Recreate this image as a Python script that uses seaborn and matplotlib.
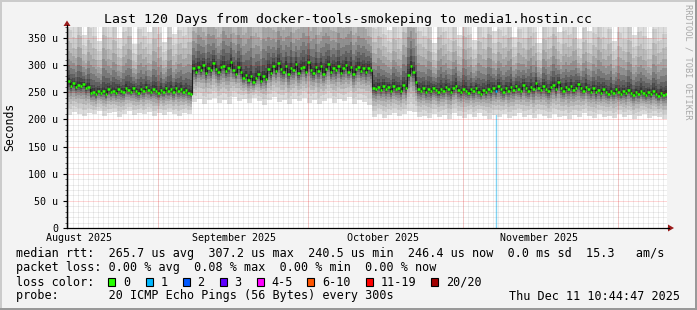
import numpy as np
import pandas as pd
import matplotlib
matplotlib.use("Agg")
import matplotlib.pyplot as plt
import matplotlib.dates as mdates
import seaborn as sns
from matplotlib.patches import Polygon, Rectangle
from matplotlib.lines import Line2D

# ---------------- data ----------------
title = "Last 120 Days from docker-tools-smokeping to media1.hostin.cc"
start_time = "2025-08-13 10:44:47"
end_time = "2025-12-11 10:44:47"

# median RTT (microseconds), one value per half day (240 values)
median_rtt = [
    270, 262, 266, 259, 264, 261, 265, 258, 260, 248,
    251, 246, 253, 249, 252, 247, 255, 250, 253, 249,
    256, 252, 250, 258, 254, 251, 257, 253, 249, 255,
    252, 259, 254, 250, 256, 253, 248, 254, 251, 257,
    252, 255, 250, 258, 253, 256, 251, 254, 249, 247,
    294, 288, 297, 291, 300, 286, 295, 290, 303, 292,
    287, 296, 299, 289, 294, 305, 291, 284, 297, 288,
    276, 281, 272, 279, 268, 277, 283, 271, 280, 275,
    293, 285, 298, 289, 304, 292, 287, 299, 283, 295,
    290, 301, 286, 294, 297, 288, 305, 291, 285, 296,
    289, 299, 284, 293, 302, 287, 295, 290, 298, 286,
    294, 300, 288, 296, 283, 292, 297, 289, 294, 287,
    295, 290, 258, 255, 260, 254, 262, 256, 259, 253,
    261, 256, 258, 252, 263, 257, 282, 299, 288, 268,
    256, 253, 258, 251, 255, 252, 257, 254, 250, 256,
    253, 259, 255, 251, 257, 262, 254, 250, 256, 253,
    249, 255, 252, 258, 251, 247, 254, 250, 256, 252,
    258, 253, 262, 255, 250, 257, 253, 259, 254, 261,
    256, 252, 264, 257, 253, 260, 255, 266, 258, 254,
    261, 256, 252, 259, 263, 255, 268, 257, 253, 260,
    256, 262, 254, 258, 265, 257, 253, 260, 255, 251,
    257, 250, 254, 248, 256, 251, 247, 253, 249, 255,
    250, 246, 252, 248, 254, 249, 245, 251, 247, 253,
    248, 244, 250, 246, 252, 247, 243, 249, 245, 247,
]

# smoke extents (microseconds), one value per day (120 values)
smoke_hi = [
    390, 372, 410, 355, 398, 380, 345, 420, 376, 402,
    350, 388, 415, 338, 395, 378, 360, 405, 385, 342,
    412, 358, 392, 380, 400,
    440, 465, 430, 470, 450,
    425, 480, 455, 435, 465, 445, 490, 450, 430, 475,
    460, 440, 470, 450, 485, 435, 455, 475, 445, 465,
    430, 480, 450, 440, 470, 450, 485, 435, 460, 455,
    420,
    395, 410, 380, 365, 400, 372, 420, 480, 460, 390,
    378, 405, 340, 415, 388, 370, 398, 355, 412,
    382, 346, 400, 375, 420, 362, 392, 380, 408, 352,
    395, 372, 410, 385, 340, 402, 377, 415, 360, 390,
    380, 405, 348, 398, 362, 385, 410, 375, 395, 345,
    388, 372, 402, 356, 390, 380, 350, 395, 370, 385,
]
smoke_lo = [
    208, 214, 210, 206, 212, 209, 215, 207, 211, 213,
    205, 210, 216, 208, 212, 209, 214, 206, 211, 208,
    213, 210, 207, 212, 209,
    232, 238, 229, 235, 240,
    231, 236, 228, 242, 233, 237, 230, 239, 234, 227,
    236, 241, 232, 235, 229, 238, 233, 240, 231, 236,
    228, 234, 239, 230, 237, 233, 241, 229, 235, 232,
    226,
    205, 210, 203, 208, 212, 206, 209, 215, 213, 204,
    207, 202, 210, 205, 208, 200, 211, 206, 203,
    209, 204, 212, 207, 201, 208, 205, 210, 203, 207,
    211, 204, 208, 202, 209, 206, 203, 210, 205, 207,
    201, 208, 204, 211, 206, 202, 209, 205, 207, 203,
    210, 204, 208, 201, 206, 209, 203, 207, 205, 200,
]

loss_time = ["2025-11-07 06:00"]
loss_count = [1]

y_ticks = [0, 50, 100, 150, 200, 250, 300, 350]
y_ticklabels = ["0", "50 u", "100 u", "150 u", "200 u", "250 u", "300 u", "350 u"]
month_labels = ["August 2025", "September 2025", "October 2025", "November 2025"]
month_label_times = ["2025-08-15 18:00", "2025-09-15 20:00", "2025-10-15 15:30", "2025-11-15 20:00"]
major_grid_times = ["2025-08-31 15:30", "2025-09-30 15:30", "2025-10-31 15:30", "2025-12-01 15:30"]

loss_labels = ["0", "1", "2", "3", "4-5", "6-10", "11-19", "20/20"]
loss_colors = ["#26ff00", "#00b8ff", "#0059ff", "#5e00ff", "#ff00ff", "#ff5500", "#ff0000", "#a10000"]

legend_rtt = "median rtt:  265.7 us avg  307.2 us max  240.5 us min  246.4 us now  0.0 ms sd  15.3   am/s"
legend_loss = "packet loss: 0.00 % avg  0.08 % max  0.00 % min  0.00 % now"
legend_probe = "probe:       20 ICMP Echo Pings (56 Bytes) every 300s"
stamp = "Thu Dec 11 10:44:47 2025"

# ---------------- figure ----------------
sns.set_theme(style="white")
plt.rcParams["font.family"] = ["DejaVu Sans Mono", "DejaVu Sans"]

W, H = 697, 310
fig = plt.figure(figsize=(W / 100, H / 100), dpi=100, facecolor="#f3f3f3")


def fx(px):
    return px / W


def fy(py):
    return 1 - py / H


ax = fig.add_axes([fx(67), fy(228), 600 / W, 201 / H])
ax.set_facecolor("white")

t0 = pd.Timestamp(start_time)
t1 = pd.Timestamp(end_time)
n = len(median_rtt)
edges = mdates.date2num(pd.date_range(t0, t1, periods=n + 1).to_pydatetime())
med = np.asarray(median_rtt, dtype=float)
lo = np.repeat(np.asarray(smoke_lo, dtype=float), n // len(smoke_lo))
hi = np.repeat(np.asarray(smoke_hi, dtype=float), n // len(smoke_hi))


def ext(a):
    return np.append(a, a[-1])


# loss marker (vertical line) under the smoke
loss_idx = []
for lt, lc in zip(loss_time, loss_count):
    tn = mdates.date2num(pd.Timestamp(lt).to_pydatetime())
    i = int(np.searchsorted(edges, tn) - 1)
    loss_idx.append((i, lc))
    ax.plot([tn, tn], [0, med[i]], color="#80d4f4", lw=1.0, zorder=1.5)

# smoke
fracs = [1.0, 0.8, 0.62, 0.47, 0.35, 0.25, 0.17, 0.1, 0.05]
greys = ["#dcdcdc", "#cccccc", "#bababa", "#a6a6a6", "#909090",
         "#787878", "#606060", "#4a4a4a", "#363636"]
for f, c in zip(fracs, greys):
    lower = med - f * (med - lo)
    upper = med + f * (hi - med)
    ax.fill_between(edges, ext(lower), ext(upper), step="post",
                    color=c, lw=0, zorder=2)

# grid (on top of the smoke)
minor_c = (0.5, 0.5, 0.5, 0.28)
major_c = (1, 0, 0, 0.32)
minor_days = mdates.date2num(pd.date_range("2025-08-13 15:30", "2025-12-11", freq="D").to_pydatetime())
for d in minor_days:
    ax.axvline(d, color=minor_c, lw=0.72, ls=(0, (1, 1)), zorder=3)
for v in range(10, 370, 10):
    if v % 50:
        ax.axhline(v, color=minor_c, lw=0.72, ls=(0, (1, 1)), zorder=3)
for v in y_ticks[1:]:
    ax.axhline(v, color=major_c, lw=0.72, ls=(0, (1, 1)), zorder=3.1)
for mt in major_grid_times:
    ax.axvline(mdates.date2num(pd.Timestamp(mt).to_pydatetime()), color=major_c,
               lw=0.72, ls=(0, (1, 1)), zorder=3.1)

# median line: dark connectors + coloured horizontal segments
mdf = pd.DataFrame({"t": edges, "rtt": ext(med)})
sns.lineplot(data=mdf, x="t", y="rtt", ax=ax, drawstyle="steps-post",
             color="#1e1e1e", lw=0.8, zorder=4)
seg_colors = [loss_colors[0]] * n
for i, lc in loss_idx:
    seg_colors[i] = loss_colors[min(lc, len(loss_colors) - 1)]
ax.hlines(med, edges[:-1], edges[1:], colors=seg_colors, lw=1.8, zorder=5)

ax.set_xlim(edges[0], edges[-1])
ax.set_ylim(0, 370)
ax.set_xlabel("")
ax.set_ylabel("")

ax.set_yticks(y_ticks)
ax.set_yticklabels(y_ticklabels)
ax.set_yticks(range(0, 371, 10), minor=True)
ax.tick_params(axis="y", which="major", direction="out", length=3, width=0.8,
               color="black", labelsize=7.2, pad=3.5, labelcolor="black", left=True)
ax.tick_params(axis="y", which="minor", direction="out", length=1.5, width=0.6,
               color="#555555", left=True)
ax.set_xticks(mdates.date2num([pd.Timestamp(t).to_pydatetime() for t in month_label_times]))
ax.set_xticklabels(month_labels)
ax.tick_params(axis="x", which="major", length=0, labelsize=7.2, pad=3.4, labelcolor="black")

for s in ["top", "right"]:
    ax.spines[s].set_visible(False)
ax.spines["left"].set_color("black")
ax.spines["bottom"].set_color("black")
ax.spines["left"].set_linewidth(0.9)
ax.spines["bottom"].set_linewidth(0.9)
ax.spines["left"].set_zorder(6)
ax.spines["bottom"].set_zorder(6)

# axis extensions and arrows
fig.add_artist(Line2D([fx(67), fx(67)], [fy(228), fy(25)], color="black", lw=0.9))
fig.add_artist(Line2D([fx(667), fx(669)], [fy(228), fy(228)], color="black", lw=0.9))
arrow_c = "#9a1a1a"
fig.add_artist(Polygon([(fx(63.5), fy(26)), (fx(70.5), fy(26)), (fx(67), fy(20.5))],
                       closed=True, color=arrow_c, lw=0))
fig.add_artist(Polygon([(fx(668), fy(224.5)), (fx(668), fy(231.5)), (fx(674), fy(228))],
                       closed=True, color=arrow_c, lw=0))

# texts
fig.text(fx(348), fy(19), title, ha="center", va="center", fontsize=9.5, color="black")
fig.text(fx(10), fy(127), "Seconds", ha="center", va="center", rotation=90,
         fontsize=8.3, color="black")
fig.text(fx(688), fy(62), "RRDTOOL / TOBI OETIKER", ha="center", va="center",
         rotation=270, fontsize=6.2, color="#a8a8a8")

lx = fx(16)
fig.text(lx, fy(254), legend_rtt, ha="left", va="center", fontsize=8.5, color="black")
fig.text(lx, fy(268), legend_loss, ha="left", va="center", fontsize=8.5, color="black")
fig.text(lx, fy(282), "loss color:", ha="left", va="center", fontsize=8.5, color="black")
fig.text(lx, fy(296), legend_probe, ha="left", va="center", fontsize=8.5, color="black")
fig.text(fx(680), fy(296), stamp, ha="right", va="center", fontsize=8.5, color="black")

box_x = [108, 145.5, 182.5, 219.5, 256.5, 307, 365.5, 431]
for bx, lab, col in zip(box_x, loss_labels, loss_colors):
    fig.add_artist(Rectangle((fx(bx), fy(285.5)), 7 / W, 8 / H, facecolor=col,
                             edgecolor="black", lw=0.8))
    fig.text(fx(bx + 15), fy(282), lab, ha="left", va="center", fontsize=8.5, color="black")

# 3D frame
fig.add_artist(Rectangle((0, fy(2)), 1, 2 / H, facecolor="#cbcbcb", lw=0))
fig.add_artist(Rectangle((0, 0), 2 / W, 1, facecolor="#cbcbcb", lw=0))
fig.add_artist(Rectangle((0, 0), 1, 2 / H, facecolor="#999999", lw=0))
fig.add_artist(Rectangle((fx(695), 0), 2 / W, 1, facecolor="#999999", lw=0))

fig.savefig("out.png", dpi=100, facecolor=fig.get_facecolor())
